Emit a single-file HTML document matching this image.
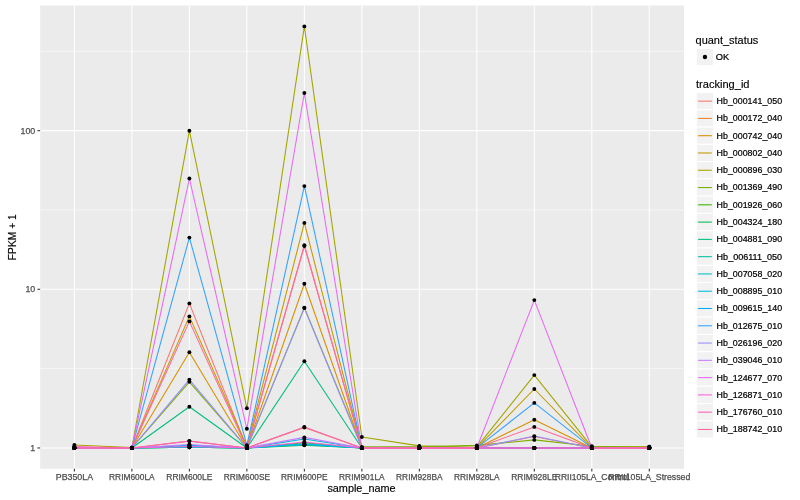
<!DOCTYPE html>
<html><head><meta charset="utf-8"><title>expression plot</title>
<style>html,body{margin:0;padding:0;background:#fff}svg{display:block}text{font-family:"Liberation Sans",sans-serif}</style></head><body>
<svg width="800" height="500" viewBox="0 0 800 500">
<rect width="800" height="500" fill="#fff"/>
<rect x="40.15" y="5.48" width="643.85" height="463.27" fill="#EBEBEB"/>
<line x1="40.15" x2="684.0" y1="368.62" y2="368.62" stroke="#fff" stroke-width="0.53"/>
<line x1="40.15" x2="684.0" y1="209.97" y2="209.97" stroke="#fff" stroke-width="0.53"/>
<line x1="40.15" x2="684.0" y1="51.32" y2="51.32" stroke="#fff" stroke-width="0.53"/>
<line x1="40.15" x2="684.0" y1="447.95" y2="447.95" stroke="#fff" stroke-width="1.07"/>
<line x1="40.15" x2="684.0" y1="289.30" y2="289.30" stroke="#fff" stroke-width="1.07"/>
<line x1="40.15" x2="684.0" y1="130.65" y2="130.65" stroke="#fff" stroke-width="1.07"/>
<line x1="74.40" x2="74.40" y1="5.48" y2="468.75" stroke="#fff" stroke-width="1.07"/>
<line x1="131.89" x2="131.89" y1="5.48" y2="468.75" stroke="#fff" stroke-width="1.07"/>
<line x1="189.38" x2="189.38" y1="5.48" y2="468.75" stroke="#fff" stroke-width="1.07"/>
<line x1="246.87" x2="246.87" y1="5.48" y2="468.75" stroke="#fff" stroke-width="1.07"/>
<line x1="304.36" x2="304.36" y1="5.48" y2="468.75" stroke="#fff" stroke-width="1.07"/>
<line x1="361.85" x2="361.85" y1="5.48" y2="468.75" stroke="#fff" stroke-width="1.07"/>
<line x1="419.34" x2="419.34" y1="5.48" y2="468.75" stroke="#fff" stroke-width="1.07"/>
<line x1="476.83" x2="476.83" y1="5.48" y2="468.75" stroke="#fff" stroke-width="1.07"/>
<line x1="534.32" x2="534.32" y1="5.48" y2="468.75" stroke="#fff" stroke-width="1.07"/>
<line x1="591.81" x2="591.81" y1="5.48" y2="468.75" stroke="#fff" stroke-width="1.07"/>
<line x1="649.30" x2="649.30" y1="5.48" y2="468.75" stroke="#fff" stroke-width="1.07"/>
<g fill="none" stroke-width="1.07" stroke-linejoin="round" stroke-linecap="butt">
<polyline stroke="#F8766D" points="74.40,447.95 131.89,447.95 189.38,303.40 246.87,447.95 304.36,245.20 361.85,447.95 419.34,447.95 476.83,447.95 534.32,436.60 591.81,447.95 649.30,447.95"/>
<polyline stroke="#EA8331" points="74.40,447.95 131.89,447.95 189.38,441.00 246.87,447.95 304.36,427.50 361.85,447.95 419.34,447.95 476.83,447.95 534.32,447.95 591.81,447.95 649.30,447.95"/>
<polyline stroke="#D89000" points="74.40,447.95 131.89,447.95 189.38,352.25 246.87,447.95 304.36,283.75 361.85,447.95 419.34,447.95 476.83,447.95 534.32,419.75 591.81,447.95 649.30,446.80"/>
<polyline stroke="#C09B00" points="74.40,447.95 131.89,447.95 189.38,316.40 246.87,446.30 304.36,222.90 361.85,447.95 419.34,447.95 476.83,447.95 534.32,389.00 591.81,447.95 649.30,447.95"/>
<polyline stroke="#A3A500" points="74.40,445.00 131.89,447.50 189.38,130.70 246.87,408.30 304.36,26.40 361.85,437.00 419.34,445.90 476.83,447.20 534.32,375.10 591.81,446.90 649.30,446.70"/>
<polyline stroke="#7CAE00" points="74.40,447.95 131.89,447.95 189.38,381.80 246.87,447.95 304.36,307.70 361.85,446.90 419.34,446.80 476.83,445.40 534.32,439.90 591.81,446.20 649.30,447.40"/>
<polyline stroke="#39B600" points="74.40,447.95 131.89,447.95 189.38,447.30 246.87,447.95 304.36,442.80 361.85,447.95 419.34,447.95 476.83,447.95 534.32,447.95 591.81,447.95 649.30,447.95"/>
<polyline stroke="#00BB4E" points="74.40,447.95 131.89,447.95 189.38,447.30 246.87,447.95 304.36,445.30 361.85,447.95 419.34,447.95 476.83,447.95 534.32,447.95 591.81,447.95 649.30,447.95"/>
<polyline stroke="#00BF7D" points="74.40,447.95 131.89,447.95 189.38,406.70 246.87,447.95 304.36,361.20 361.85,447.95 419.34,447.95 476.83,447.95 534.32,447.95 591.81,447.95 649.30,447.95"/>
<polyline stroke="#00C1A3" points="74.40,447.95 131.89,447.95 189.38,447.30 246.87,447.95 304.36,444.70 361.85,447.95 419.34,447.95 476.83,447.95 534.32,447.95 591.81,447.95 649.30,447.95"/>
<polyline stroke="#00BFC4" points="74.40,447.95 131.89,447.95 189.38,447.25 246.87,447.95 304.36,443.80 361.85,447.95 419.34,447.95 476.83,447.95 534.32,447.95 591.81,447.95 649.30,447.95"/>
<polyline stroke="#00BAE0" points="74.40,447.95 131.89,447.95 189.38,445.60 246.87,447.95 304.36,439.00 361.85,447.95 419.34,447.95 476.83,447.95 534.32,447.95 591.81,447.95 649.30,447.95"/>
<polyline stroke="#00B0F6" points="74.40,447.95 131.89,447.95 189.38,445.40 246.87,447.95 304.36,444.30 361.85,447.95 419.34,447.95 476.83,447.95 534.32,447.95 591.81,447.95 649.30,447.95"/>
<polyline stroke="#35A2FF" points="74.40,447.95 131.89,447.95 189.38,237.60 246.87,445.20 304.36,186.10 361.85,447.95 419.34,447.95 476.83,447.95 534.32,402.90 591.81,447.95 649.30,447.95"/>
<polyline stroke="#9590FF" points="74.40,447.95 131.89,447.95 189.38,379.60 246.87,447.95 304.36,308.00 361.85,447.95 419.34,447.95 476.83,447.95 534.32,436.10 591.81,447.95 649.30,447.95"/>
<polyline stroke="#C77CFF" points="74.40,447.95 131.89,447.95 189.38,444.50 246.87,447.95 304.36,437.40 361.85,447.95 419.34,447.95 476.83,447.95 534.32,447.95 591.81,447.95 649.30,447.95"/>
<polyline stroke="#E76BF3" points="74.40,447.95 131.89,447.95 189.38,178.50 246.87,428.80 304.36,93.00 361.85,447.95 419.34,447.95 476.83,447.95 534.32,300.10 591.81,447.95 649.30,447.95"/>
<polyline stroke="#FA62DB" points="74.40,447.95 131.89,447.95 189.38,446.50 246.87,447.95 304.36,442.00 361.85,447.95 419.34,447.95 476.83,447.95 534.32,447.95 591.81,447.95 649.30,447.95"/>
<polyline stroke="#FF62BC" points="74.40,446.50 131.89,447.95 189.38,441.10 246.87,447.95 304.36,427.00 361.85,447.95 419.34,447.95 476.83,447.95 534.32,447.95 591.81,447.95 649.30,447.95"/>
<polyline stroke="#FF6A98" points="74.40,447.95 131.89,447.95 189.38,321.40 246.87,447.95 304.36,246.00 361.85,447.95 419.34,447.95 476.83,447.95 534.32,426.90 591.81,447.95 649.30,447.95"/>
</g>
<g fill="#000">
<circle cx="74.40" cy="447.95" r="1.95"/>
<circle cx="131.89" cy="447.95" r="1.95"/>
<circle cx="189.38" cy="303.40" r="1.95"/>
<circle cx="246.87" cy="447.95" r="1.95"/>
<circle cx="304.36" cy="245.20" r="1.95"/>
<circle cx="361.85" cy="447.95" r="1.95"/>
<circle cx="419.34" cy="447.95" r="1.95"/>
<circle cx="476.83" cy="447.95" r="1.95"/>
<circle cx="534.32" cy="436.60" r="1.95"/>
<circle cx="591.81" cy="447.95" r="1.95"/>
<circle cx="649.30" cy="447.95" r="1.95"/>
<circle cx="74.40" cy="447.95" r="1.95"/>
<circle cx="131.89" cy="447.95" r="1.95"/>
<circle cx="189.38" cy="441.00" r="1.95"/>
<circle cx="246.87" cy="447.95" r="1.95"/>
<circle cx="304.36" cy="427.50" r="1.95"/>
<circle cx="361.85" cy="447.95" r="1.95"/>
<circle cx="419.34" cy="447.95" r="1.95"/>
<circle cx="476.83" cy="447.95" r="1.95"/>
<circle cx="534.32" cy="447.95" r="1.95"/>
<circle cx="591.81" cy="447.95" r="1.95"/>
<circle cx="649.30" cy="447.95" r="1.95"/>
<circle cx="74.40" cy="447.95" r="1.95"/>
<circle cx="131.89" cy="447.95" r="1.95"/>
<circle cx="189.38" cy="352.25" r="1.95"/>
<circle cx="246.87" cy="447.95" r="1.95"/>
<circle cx="304.36" cy="283.75" r="1.95"/>
<circle cx="361.85" cy="447.95" r="1.95"/>
<circle cx="419.34" cy="447.95" r="1.95"/>
<circle cx="476.83" cy="447.95" r="1.95"/>
<circle cx="534.32" cy="419.75" r="1.95"/>
<circle cx="591.81" cy="447.95" r="1.95"/>
<circle cx="649.30" cy="446.80" r="1.95"/>
<circle cx="74.40" cy="447.95" r="1.95"/>
<circle cx="131.89" cy="447.95" r="1.95"/>
<circle cx="189.38" cy="316.40" r="1.95"/>
<circle cx="246.87" cy="446.30" r="1.95"/>
<circle cx="304.36" cy="222.90" r="1.95"/>
<circle cx="361.85" cy="447.95" r="1.95"/>
<circle cx="419.34" cy="447.95" r="1.95"/>
<circle cx="476.83" cy="447.95" r="1.95"/>
<circle cx="534.32" cy="389.00" r="1.95"/>
<circle cx="591.81" cy="447.95" r="1.95"/>
<circle cx="649.30" cy="447.95" r="1.95"/>
<circle cx="74.40" cy="445.00" r="1.95"/>
<circle cx="131.89" cy="447.50" r="1.95"/>
<circle cx="189.38" cy="130.70" r="1.95"/>
<circle cx="246.87" cy="408.30" r="1.95"/>
<circle cx="304.36" cy="26.40" r="1.95"/>
<circle cx="361.85" cy="437.00" r="1.95"/>
<circle cx="419.34" cy="445.90" r="1.95"/>
<circle cx="476.83" cy="447.20" r="1.95"/>
<circle cx="534.32" cy="375.10" r="1.95"/>
<circle cx="591.81" cy="446.90" r="1.95"/>
<circle cx="649.30" cy="446.70" r="1.95"/>
<circle cx="74.40" cy="447.95" r="1.95"/>
<circle cx="131.89" cy="447.95" r="1.95"/>
<circle cx="189.38" cy="381.80" r="1.95"/>
<circle cx="246.87" cy="447.95" r="1.95"/>
<circle cx="304.36" cy="307.70" r="1.95"/>
<circle cx="361.85" cy="446.90" r="1.95"/>
<circle cx="419.34" cy="446.80" r="1.95"/>
<circle cx="476.83" cy="445.40" r="1.95"/>
<circle cx="534.32" cy="439.90" r="1.95"/>
<circle cx="591.81" cy="446.20" r="1.95"/>
<circle cx="649.30" cy="447.40" r="1.95"/>
<circle cx="74.40" cy="447.95" r="1.95"/>
<circle cx="131.89" cy="447.95" r="1.95"/>
<circle cx="189.38" cy="447.30" r="1.95"/>
<circle cx="246.87" cy="447.95" r="1.95"/>
<circle cx="304.36" cy="442.80" r="1.95"/>
<circle cx="361.85" cy="447.95" r="1.95"/>
<circle cx="419.34" cy="447.95" r="1.95"/>
<circle cx="476.83" cy="447.95" r="1.95"/>
<circle cx="534.32" cy="447.95" r="1.95"/>
<circle cx="591.81" cy="447.95" r="1.95"/>
<circle cx="649.30" cy="447.95" r="1.95"/>
<circle cx="74.40" cy="447.95" r="1.95"/>
<circle cx="131.89" cy="447.95" r="1.95"/>
<circle cx="189.38" cy="447.30" r="1.95"/>
<circle cx="246.87" cy="447.95" r="1.95"/>
<circle cx="304.36" cy="445.30" r="1.95"/>
<circle cx="361.85" cy="447.95" r="1.95"/>
<circle cx="419.34" cy="447.95" r="1.95"/>
<circle cx="476.83" cy="447.95" r="1.95"/>
<circle cx="534.32" cy="447.95" r="1.95"/>
<circle cx="591.81" cy="447.95" r="1.95"/>
<circle cx="649.30" cy="447.95" r="1.95"/>
<circle cx="74.40" cy="447.95" r="1.95"/>
<circle cx="131.89" cy="447.95" r="1.95"/>
<circle cx="189.38" cy="406.70" r="1.95"/>
<circle cx="246.87" cy="447.95" r="1.95"/>
<circle cx="304.36" cy="361.20" r="1.95"/>
<circle cx="361.85" cy="447.95" r="1.95"/>
<circle cx="419.34" cy="447.95" r="1.95"/>
<circle cx="476.83" cy="447.95" r="1.95"/>
<circle cx="534.32" cy="447.95" r="1.95"/>
<circle cx="591.81" cy="447.95" r="1.95"/>
<circle cx="649.30" cy="447.95" r="1.95"/>
<circle cx="74.40" cy="447.95" r="1.95"/>
<circle cx="131.89" cy="447.95" r="1.95"/>
<circle cx="189.38" cy="447.30" r="1.95"/>
<circle cx="246.87" cy="447.95" r="1.95"/>
<circle cx="304.36" cy="444.70" r="1.95"/>
<circle cx="361.85" cy="447.95" r="1.95"/>
<circle cx="419.34" cy="447.95" r="1.95"/>
<circle cx="476.83" cy="447.95" r="1.95"/>
<circle cx="534.32" cy="447.95" r="1.95"/>
<circle cx="591.81" cy="447.95" r="1.95"/>
<circle cx="649.30" cy="447.95" r="1.95"/>
<circle cx="74.40" cy="447.95" r="1.95"/>
<circle cx="131.89" cy="447.95" r="1.95"/>
<circle cx="189.38" cy="447.25" r="1.95"/>
<circle cx="246.87" cy="447.95" r="1.95"/>
<circle cx="304.36" cy="443.80" r="1.95"/>
<circle cx="361.85" cy="447.95" r="1.95"/>
<circle cx="419.34" cy="447.95" r="1.95"/>
<circle cx="476.83" cy="447.95" r="1.95"/>
<circle cx="534.32" cy="447.95" r="1.95"/>
<circle cx="591.81" cy="447.95" r="1.95"/>
<circle cx="649.30" cy="447.95" r="1.95"/>
<circle cx="74.40" cy="447.95" r="1.95"/>
<circle cx="131.89" cy="447.95" r="1.95"/>
<circle cx="189.38" cy="445.60" r="1.95"/>
<circle cx="246.87" cy="447.95" r="1.95"/>
<circle cx="304.36" cy="439.00" r="1.95"/>
<circle cx="361.85" cy="447.95" r="1.95"/>
<circle cx="419.34" cy="447.95" r="1.95"/>
<circle cx="476.83" cy="447.95" r="1.95"/>
<circle cx="534.32" cy="447.95" r="1.95"/>
<circle cx="591.81" cy="447.95" r="1.95"/>
<circle cx="649.30" cy="447.95" r="1.95"/>
<circle cx="74.40" cy="447.95" r="1.95"/>
<circle cx="131.89" cy="447.95" r="1.95"/>
<circle cx="189.38" cy="445.40" r="1.95"/>
<circle cx="246.87" cy="447.95" r="1.95"/>
<circle cx="304.36" cy="444.30" r="1.95"/>
<circle cx="361.85" cy="447.95" r="1.95"/>
<circle cx="419.34" cy="447.95" r="1.95"/>
<circle cx="476.83" cy="447.95" r="1.95"/>
<circle cx="534.32" cy="447.95" r="1.95"/>
<circle cx="591.81" cy="447.95" r="1.95"/>
<circle cx="649.30" cy="447.95" r="1.95"/>
<circle cx="74.40" cy="447.95" r="1.95"/>
<circle cx="131.89" cy="447.95" r="1.95"/>
<circle cx="189.38" cy="237.60" r="1.95"/>
<circle cx="246.87" cy="445.20" r="1.95"/>
<circle cx="304.36" cy="186.10" r="1.95"/>
<circle cx="361.85" cy="447.95" r="1.95"/>
<circle cx="419.34" cy="447.95" r="1.95"/>
<circle cx="476.83" cy="447.95" r="1.95"/>
<circle cx="534.32" cy="402.90" r="1.95"/>
<circle cx="591.81" cy="447.95" r="1.95"/>
<circle cx="649.30" cy="447.95" r="1.95"/>
<circle cx="74.40" cy="447.95" r="1.95"/>
<circle cx="131.89" cy="447.95" r="1.95"/>
<circle cx="189.38" cy="379.60" r="1.95"/>
<circle cx="246.87" cy="447.95" r="1.95"/>
<circle cx="304.36" cy="308.00" r="1.95"/>
<circle cx="361.85" cy="447.95" r="1.95"/>
<circle cx="419.34" cy="447.95" r="1.95"/>
<circle cx="476.83" cy="447.95" r="1.95"/>
<circle cx="534.32" cy="436.10" r="1.95"/>
<circle cx="591.81" cy="447.95" r="1.95"/>
<circle cx="649.30" cy="447.95" r="1.95"/>
<circle cx="74.40" cy="447.95" r="1.95"/>
<circle cx="131.89" cy="447.95" r="1.95"/>
<circle cx="189.38" cy="444.50" r="1.95"/>
<circle cx="246.87" cy="447.95" r="1.95"/>
<circle cx="304.36" cy="437.40" r="1.95"/>
<circle cx="361.85" cy="447.95" r="1.95"/>
<circle cx="419.34" cy="447.95" r="1.95"/>
<circle cx="476.83" cy="447.95" r="1.95"/>
<circle cx="534.32" cy="447.95" r="1.95"/>
<circle cx="591.81" cy="447.95" r="1.95"/>
<circle cx="649.30" cy="447.95" r="1.95"/>
<circle cx="74.40" cy="447.95" r="1.95"/>
<circle cx="131.89" cy="447.95" r="1.95"/>
<circle cx="189.38" cy="178.50" r="1.95"/>
<circle cx="246.87" cy="428.80" r="1.95"/>
<circle cx="304.36" cy="93.00" r="1.95"/>
<circle cx="361.85" cy="447.95" r="1.95"/>
<circle cx="419.34" cy="447.95" r="1.95"/>
<circle cx="476.83" cy="447.95" r="1.95"/>
<circle cx="534.32" cy="300.10" r="1.95"/>
<circle cx="591.81" cy="447.95" r="1.95"/>
<circle cx="649.30" cy="447.95" r="1.95"/>
<circle cx="74.40" cy="447.95" r="1.95"/>
<circle cx="131.89" cy="447.95" r="1.95"/>
<circle cx="189.38" cy="446.50" r="1.95"/>
<circle cx="246.87" cy="447.95" r="1.95"/>
<circle cx="304.36" cy="442.00" r="1.95"/>
<circle cx="361.85" cy="447.95" r="1.95"/>
<circle cx="419.34" cy="447.95" r="1.95"/>
<circle cx="476.83" cy="447.95" r="1.95"/>
<circle cx="534.32" cy="447.95" r="1.95"/>
<circle cx="591.81" cy="447.95" r="1.95"/>
<circle cx="649.30" cy="447.95" r="1.95"/>
<circle cx="74.40" cy="446.50" r="1.95"/>
<circle cx="131.89" cy="447.95" r="1.95"/>
<circle cx="189.38" cy="441.10" r="1.95"/>
<circle cx="246.87" cy="447.95" r="1.95"/>
<circle cx="304.36" cy="427.00" r="1.95"/>
<circle cx="361.85" cy="447.95" r="1.95"/>
<circle cx="419.34" cy="447.95" r="1.95"/>
<circle cx="476.83" cy="447.95" r="1.95"/>
<circle cx="534.32" cy="447.95" r="1.95"/>
<circle cx="591.81" cy="447.95" r="1.95"/>
<circle cx="649.30" cy="447.95" r="1.95"/>
<circle cx="74.40" cy="447.95" r="1.95"/>
<circle cx="131.89" cy="447.95" r="1.95"/>
<circle cx="189.38" cy="321.40" r="1.95"/>
<circle cx="246.87" cy="447.95" r="1.95"/>
<circle cx="304.36" cy="246.00" r="1.95"/>
<circle cx="361.85" cy="447.95" r="1.95"/>
<circle cx="419.34" cy="447.95" r="1.95"/>
<circle cx="476.83" cy="447.95" r="1.95"/>
<circle cx="534.32" cy="426.90" r="1.95"/>
<circle cx="591.81" cy="447.95" r="1.95"/>
<circle cx="649.30" cy="447.95" r="1.95"/>
</g>
<g stroke="#333" stroke-width="1.07">
<line x1="74.40" x2="74.40" y1="468.75" y2="471.5"/>
<line x1="131.89" x2="131.89" y1="468.75" y2="471.5"/>
<line x1="189.38" x2="189.38" y1="468.75" y2="471.5"/>
<line x1="246.87" x2="246.87" y1="468.75" y2="471.5"/>
<line x1="304.36" x2="304.36" y1="468.75" y2="471.5"/>
<line x1="361.85" x2="361.85" y1="468.75" y2="471.5"/>
<line x1="419.34" x2="419.34" y1="468.75" y2="471.5"/>
<line x1="476.83" x2="476.83" y1="468.75" y2="471.5"/>
<line x1="534.32" x2="534.32" y1="468.75" y2="471.5"/>
<line x1="591.81" x2="591.81" y1="468.75" y2="471.5"/>
<line x1="649.30" x2="649.30" y1="468.75" y2="471.5"/>
<line x1="37.40" x2="40.15" y1="447.95" y2="447.95"/>
<line x1="37.40" x2="40.15" y1="289.30" y2="289.30"/>
<line x1="37.40" x2="40.15" y1="130.65" y2="130.65"/>
</g>
<g font-size="8.8" fill="#4D4D4D" stroke="#4D4D4D" stroke-width="0.25">
<text x="35.20" y="451.10" text-anchor="end">1</text>
<text x="35.20" y="292.45" text-anchor="end">10</text>
<text x="35.20" y="133.80" text-anchor="end">100</text>
<text x="55.75" y="480.1" textLength="37.3" lengthAdjust="spacingAndGlyphs">PB350LA</text>
<text x="109.09" y="480.1" textLength="45.6" lengthAdjust="spacingAndGlyphs">RRIM600LA</text>
<text x="166.28" y="480.1" textLength="46.2" lengthAdjust="spacingAndGlyphs">RRIM600LE</text>
<text x="223.67" y="480.1" textLength="46.4" lengthAdjust="spacingAndGlyphs">RRIM600SE</text>
<text x="281.06" y="480.1" textLength="46.6" lengthAdjust="spacingAndGlyphs">RRIM600PE</text>
<text x="339.05" y="480.1" textLength="45.6" lengthAdjust="spacingAndGlyphs">RRIM901LA</text>
<text x="396.04" y="480.1" textLength="46.6" lengthAdjust="spacingAndGlyphs">RRIM928BA</text>
<text x="454.03" y="480.1" textLength="45.6" lengthAdjust="spacingAndGlyphs">RRIM928LA</text>
<text x="511.22" y="480.1" textLength="46.2" lengthAdjust="spacingAndGlyphs">RRIM928LE</text>
<text x="554.71" y="480.1" textLength="74.2" lengthAdjust="spacingAndGlyphs">RRII105LA_Control</text>
<text x="608.30" y="480.1" textLength="82.0" lengthAdjust="spacingAndGlyphs">RRII105LA_Stressed</text>
</g>
<text x="327.4" y="491.6" font-size="11" fill="#000" stroke="#000" stroke-width="0.15" textLength="68.2" lengthAdjust="spacingAndGlyphs">sample_name</text>
<text transform="translate(16.1,260.2) rotate(-90)" font-size="11" fill="#000" stroke="#000" stroke-width="0.15" textLength="45.9" lengthAdjust="spacingAndGlyphs">FPKM + 1</text>
<text x="695.6" y="43.8" font-size="11" fill="#000" stroke="#000" stroke-width="0.15" textLength="62.7" lengthAdjust="spacingAndGlyphs">quant_status</text>
<rect x="696.3" y="48.4" width="17.28" height="17.28" fill="#F2F2F2" stroke="#fff" stroke-width="1.07"/>
<circle cx="704.94" cy="57.04" r="2.2" fill="#000"/>
<text x="715.8" y="60.2" font-size="8.8" fill="#000" stroke="#000" stroke-width="0.22" textLength="13.4" lengthAdjust="spacingAndGlyphs">OK</text>
<text x="696" y="87.9" font-size="11" fill="#000" stroke="#000" stroke-width="0.15" textLength="53.5" lengthAdjust="spacingAndGlyphs">tracking_id</text>
<rect x="696.3" y="92.50" width="17.28" height="17.28" fill="#F2F2F2" stroke="#fff" stroke-width="1.07"/>
<line x1="698.03" x2="711.85" y1="101.14" y2="101.14" stroke="#F8766D" stroke-width="1.07"/>
<text x="716.6" y="104.04" font-size="8.8" fill="#000" stroke="#000" stroke-width="0.22" textLength="65.5" lengthAdjust="spacingAndGlyphs">Hb_000141_050</text>
<rect x="696.3" y="109.78" width="17.28" height="17.28" fill="#F2F2F2" stroke="#fff" stroke-width="1.07"/>
<line x1="698.03" x2="711.85" y1="118.42" y2="118.42" stroke="#EA8331" stroke-width="1.07"/>
<text x="716.6" y="121.32" font-size="8.8" fill="#000" stroke="#000" stroke-width="0.22" textLength="65.5" lengthAdjust="spacingAndGlyphs">Hb_000172_040</text>
<rect x="696.3" y="127.06" width="17.28" height="17.28" fill="#F2F2F2" stroke="#fff" stroke-width="1.07"/>
<line x1="698.03" x2="711.85" y1="135.70" y2="135.70" stroke="#D89000" stroke-width="1.07"/>
<text x="716.6" y="138.60" font-size="8.8" fill="#000" stroke="#000" stroke-width="0.22" textLength="65.5" lengthAdjust="spacingAndGlyphs">Hb_000742_040</text>
<rect x="696.3" y="144.34" width="17.28" height="17.28" fill="#F2F2F2" stroke="#fff" stroke-width="1.07"/>
<line x1="698.03" x2="711.85" y1="152.98" y2="152.98" stroke="#C09B00" stroke-width="1.07"/>
<text x="716.6" y="155.88" font-size="8.8" fill="#000" stroke="#000" stroke-width="0.22" textLength="65.5" lengthAdjust="spacingAndGlyphs">Hb_000802_040</text>
<rect x="696.3" y="161.62" width="17.28" height="17.28" fill="#F2F2F2" stroke="#fff" stroke-width="1.07"/>
<line x1="698.03" x2="711.85" y1="170.26" y2="170.26" stroke="#A3A500" stroke-width="1.07"/>
<text x="716.6" y="173.16" font-size="8.8" fill="#000" stroke="#000" stroke-width="0.22" textLength="65.5" lengthAdjust="spacingAndGlyphs">Hb_000896_030</text>
<rect x="696.3" y="178.90" width="17.28" height="17.28" fill="#F2F2F2" stroke="#fff" stroke-width="1.07"/>
<line x1="698.03" x2="711.85" y1="187.54" y2="187.54" stroke="#7CAE00" stroke-width="1.07"/>
<text x="716.6" y="190.44" font-size="8.8" fill="#000" stroke="#000" stroke-width="0.22" textLength="65.5" lengthAdjust="spacingAndGlyphs">Hb_001369_490</text>
<rect x="696.3" y="196.18" width="17.28" height="17.28" fill="#F2F2F2" stroke="#fff" stroke-width="1.07"/>
<line x1="698.03" x2="711.85" y1="204.82" y2="204.82" stroke="#39B600" stroke-width="1.07"/>
<text x="716.6" y="207.72" font-size="8.8" fill="#000" stroke="#000" stroke-width="0.22" textLength="65.5" lengthAdjust="spacingAndGlyphs">Hb_001926_060</text>
<rect x="696.3" y="213.46" width="17.28" height="17.28" fill="#F2F2F2" stroke="#fff" stroke-width="1.07"/>
<line x1="698.03" x2="711.85" y1="222.10" y2="222.10" stroke="#00BB4E" stroke-width="1.07"/>
<text x="716.6" y="225.00" font-size="8.8" fill="#000" stroke="#000" stroke-width="0.22" textLength="65.5" lengthAdjust="spacingAndGlyphs">Hb_004324_180</text>
<rect x="696.3" y="230.74" width="17.28" height="17.28" fill="#F2F2F2" stroke="#fff" stroke-width="1.07"/>
<line x1="698.03" x2="711.85" y1="239.38" y2="239.38" stroke="#00BF7D" stroke-width="1.07"/>
<text x="716.6" y="242.28" font-size="8.8" fill="#000" stroke="#000" stroke-width="0.22" textLength="65.5" lengthAdjust="spacingAndGlyphs">Hb_004881_090</text>
<rect x="696.3" y="248.02" width="17.28" height="17.28" fill="#F2F2F2" stroke="#fff" stroke-width="1.07"/>
<line x1="698.03" x2="711.85" y1="256.66" y2="256.66" stroke="#00C1A3" stroke-width="1.07"/>
<text x="716.6" y="259.56" font-size="8.8" fill="#000" stroke="#000" stroke-width="0.22" textLength="65.5" lengthAdjust="spacingAndGlyphs">Hb_006111_050</text>
<rect x="696.3" y="265.30" width="17.28" height="17.28" fill="#F2F2F2" stroke="#fff" stroke-width="1.07"/>
<line x1="698.03" x2="711.85" y1="273.94" y2="273.94" stroke="#00BFC4" stroke-width="1.07"/>
<text x="716.6" y="276.84" font-size="8.8" fill="#000" stroke="#000" stroke-width="0.22" textLength="65.5" lengthAdjust="spacingAndGlyphs">Hb_007058_020</text>
<rect x="696.3" y="282.58" width="17.28" height="17.28" fill="#F2F2F2" stroke="#fff" stroke-width="1.07"/>
<line x1="698.03" x2="711.85" y1="291.22" y2="291.22" stroke="#00BAE0" stroke-width="1.07"/>
<text x="716.6" y="294.12" font-size="8.8" fill="#000" stroke="#000" stroke-width="0.22" textLength="65.5" lengthAdjust="spacingAndGlyphs">Hb_008895_010</text>
<rect x="696.3" y="299.86" width="17.28" height="17.28" fill="#F2F2F2" stroke="#fff" stroke-width="1.07"/>
<line x1="698.03" x2="711.85" y1="308.50" y2="308.50" stroke="#00B0F6" stroke-width="1.07"/>
<text x="716.6" y="311.40" font-size="8.8" fill="#000" stroke="#000" stroke-width="0.22" textLength="65.5" lengthAdjust="spacingAndGlyphs">Hb_009615_140</text>
<rect x="696.3" y="317.14" width="17.28" height="17.28" fill="#F2F2F2" stroke="#fff" stroke-width="1.07"/>
<line x1="698.03" x2="711.85" y1="325.78" y2="325.78" stroke="#35A2FF" stroke-width="1.07"/>
<text x="716.6" y="328.68" font-size="8.8" fill="#000" stroke="#000" stroke-width="0.22" textLength="65.5" lengthAdjust="spacingAndGlyphs">Hb_012675_010</text>
<rect x="696.3" y="334.42" width="17.28" height="17.28" fill="#F2F2F2" stroke="#fff" stroke-width="1.07"/>
<line x1="698.03" x2="711.85" y1="343.06" y2="343.06" stroke="#9590FF" stroke-width="1.07"/>
<text x="716.6" y="345.96" font-size="8.8" fill="#000" stroke="#000" stroke-width="0.22" textLength="65.5" lengthAdjust="spacingAndGlyphs">Hb_026196_020</text>
<rect x="696.3" y="351.70" width="17.28" height="17.28" fill="#F2F2F2" stroke="#fff" stroke-width="1.07"/>
<line x1="698.03" x2="711.85" y1="360.34" y2="360.34" stroke="#C77CFF" stroke-width="1.07"/>
<text x="716.6" y="363.24" font-size="8.8" fill="#000" stroke="#000" stroke-width="0.22" textLength="65.5" lengthAdjust="spacingAndGlyphs">Hb_039046_010</text>
<rect x="696.3" y="368.98" width="17.28" height="17.28" fill="#F2F2F2" stroke="#fff" stroke-width="1.07"/>
<line x1="698.03" x2="711.85" y1="377.62" y2="377.62" stroke="#E76BF3" stroke-width="1.07"/>
<text x="716.6" y="380.52" font-size="8.8" fill="#000" stroke="#000" stroke-width="0.22" textLength="65.5" lengthAdjust="spacingAndGlyphs">Hb_124677_070</text>
<rect x="696.3" y="386.26" width="17.28" height="17.28" fill="#F2F2F2" stroke="#fff" stroke-width="1.07"/>
<line x1="698.03" x2="711.85" y1="394.90" y2="394.90" stroke="#FA62DB" stroke-width="1.07"/>
<text x="716.6" y="397.80" font-size="8.8" fill="#000" stroke="#000" stroke-width="0.22" textLength="65.5" lengthAdjust="spacingAndGlyphs">Hb_126871_010</text>
<rect x="696.3" y="403.54" width="17.28" height="17.28" fill="#F2F2F2" stroke="#fff" stroke-width="1.07"/>
<line x1="698.03" x2="711.85" y1="412.18" y2="412.18" stroke="#FF62BC" stroke-width="1.07"/>
<text x="716.6" y="415.08" font-size="8.8" fill="#000" stroke="#000" stroke-width="0.22" textLength="65.5" lengthAdjust="spacingAndGlyphs">Hb_176760_010</text>
<rect x="696.3" y="420.82" width="17.28" height="17.28" fill="#F2F2F2" stroke="#fff" stroke-width="1.07"/>
<line x1="698.03" x2="711.85" y1="429.46" y2="429.46" stroke="#FF6A98" stroke-width="1.07"/>
<text x="716.6" y="432.36" font-size="8.8" fill="#000" stroke="#000" stroke-width="0.22" textLength="65.5" lengthAdjust="spacingAndGlyphs">Hb_188742_010</text>
</svg></body></html>
